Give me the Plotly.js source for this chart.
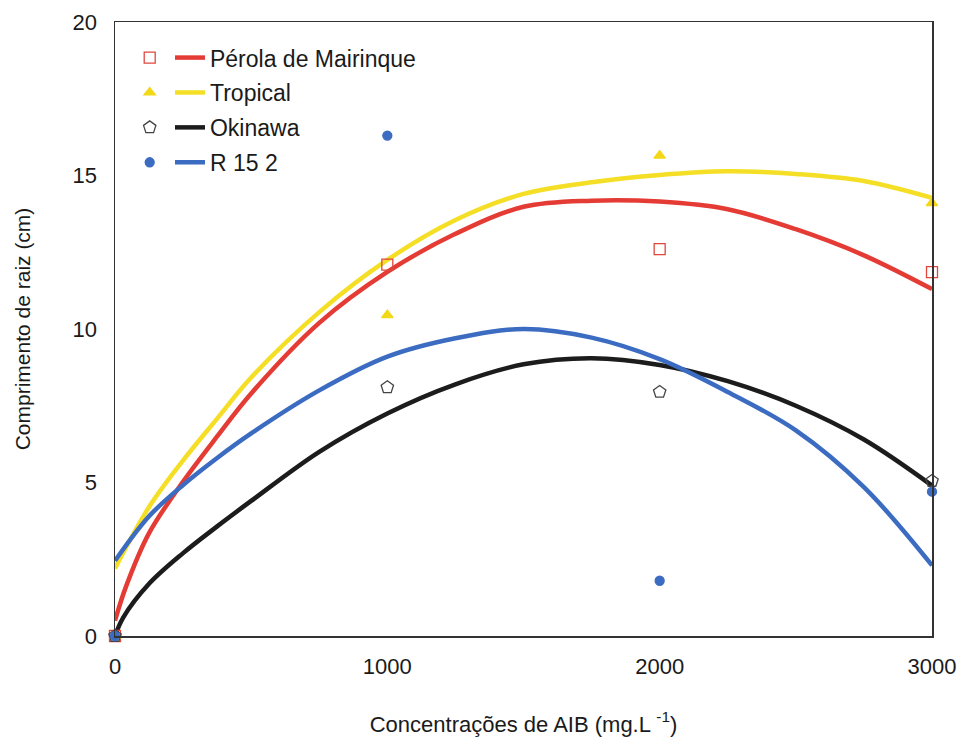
<!DOCTYPE html>
<html><head><meta charset="utf-8">
<script src="https://cdn.plot.ly/plotly-3.0.1.min.js"></script>
<style>html,body{margin:0;padding:0;background:#fff;}#chart{width:961px;height:737px;}</style>
</head><body><div id="chart"></div>
<script>
// Observed points
const doses = [0, 1000, 2000, 3000];
const perolaPts   = [0, 12.1, 12.6, 11.85];
const tropicalPts = [0, 10.45, 15.65, 14.1];
const okinawaPts  = [0, 8.1, 7.95, 5.05];
const r152Pts     = [0, 16.3, 1.8, 4.7];

// Fitted curves
const perolaCurveX = [0, 40, 125, 250, 375, 500, 750, 1000, 1250, 1500, 1750, 2000, 2250, 2500, 2750, 3000];
const perolaCurveY = [0.5, 1.6, 3.35, 5.03, 6.5, 7.9, 10.2, 11.86, 13.1, 13.98, 14.18, 14.15, 13.9, 13.25, 12.4, 11.3];
const tropicalCurveX = [0, 125, 250, 375, 500, 750, 1000, 1250, 1500, 1750, 2000, 2250, 2500, 2750, 3000];
const tropicalCurveY = [2.2, 4.2, 5.72, 7.08, 8.42, 10.55, 12.25, 13.55, 14.4, 14.78, 15.02, 15.14, 15.05, 14.82, 14.27];
const okinawaCurveX = [0, 30, 125, 250, 375, 500, 750, 1000, 1250, 1500, 1750, 2000, 2250, 2500, 2750, 3000];
const okinawaCurveY = [0, 0.6, 1.7, 2.7, 3.57, 4.4, 6.0, 7.25, 8.2, 8.85, 9.05, 8.83, 8.3, 7.5, 6.4, 4.9];
const r152CurveX = [0, 125, 250, 375, 500, 750, 1000, 1250, 1500, 1750, 2000, 2250, 2500, 2750, 3000];
const r152CurveY = [2.45, 3.9, 4.92, 5.8, 6.6, 8.0, 9.1, 9.7, 10.0, 9.72, 9.02, 7.95, 6.7, 4.85, 2.3];

const names = ['Pérola de Mairinque', 'Tropical', 'Okinawa', 'R 15 2'];
const xTicks = [0, 1000, 2000, 3000];
const yTicks = [0, 5, 10, 15, 20];

const colors = ['#e53b35', '#f5df26', '#1c1c1c', '#3b6cc2'];
const symbols = ['square-open', 'triangle-up', 'pentagon-open', 'circle'];
const mColors = ['#e0463c', '#f2d817', '#444444', '#3b6cc2'];
const mSizes = [11, 10, 13, 9];

const pts = [perolaPts, tropicalPts, okinawaPts, r152Pts];
const cx = [perolaCurveX, tropicalCurveX, okinawaCurveX, r152CurveX];
const cy = [perolaCurveY, tropicalCurveY, okinawaCurveY, r152CurveY];

const traces = [];
for (let i = 0; i < 4; i++) {
  traces.push({
    x: cx[i], y: cy[i], type: 'scatter', mode: 'lines',
    line: {color: colors[i], width: 4.5, shape: 'spline', smoothing: 1},
    name: names[i], legend: 'legend', legendgroup: 'l' + i, cliponaxis: false
  });
}
for (let i = 0; i < 4; i++) {
  traces.push({
    x: doses, y: pts[i], type: 'scatter', mode: 'markers',
    marker: {symbol: symbols[i], color: mColors[i], size: mSizes[i], line: {width: 1.3, color: mColors[i]}},
    name: '\u00a0', legend: 'legend2', legendgroup: 'm' + i, cliponaxis: false
  });
}

const fontFam = '"Liberation Sans", Arial, sans-serif';
const legCommon = {
  font: {family: fontFam, size: 23, color: '#1a1a1a'},
  bgcolor: 'rgba(0,0,0,0)', borderwidth: 0,
  xanchor: 'left', yanchor: 'top', tracegroupgap: 2, traceorder: 'grouped',
  itemwidth: 30
};

const layout = {
  width: 961, height: 737,
  paper_bgcolor: '#fff', plot_bgcolor: '#fff',
  margin: {l: 115, r: 29, t: 22, b: 101},
  font: {family: fontFam, color: '#1a1a1a'},
  showlegend: true,
  legend: Object.assign({}, legCommon, {x: 0.0673, y: 0.977}),
  legend2: Object.assign({}, legCommon, {x: 0.018, y: 0.977}),
  xaxis: {
    range: [0, 3000], tickvals: xTicks, ticktext: xTicks.map(String),
    showgrid: false, zeroline: false, showline: true, mirror: true,
    linecolor: '#333', linewidth: 1.5, ticks: '',
    tickfont: {size: 22, family: fontFam}, ticklabelstandoff: 10,
    title: {text: 'Concentrações de AIB (mg.L <sup>-1</sup>)', font: {size: 22, family: fontFam}, standoff: 38}
  },
  yaxis: {
    range: [0, 20], tickvals: yTicks, ticktext: yTicks.map(String),
    showgrid: false, zeroline: false, showline: true, mirror: true,
    linecolor: '#333', linewidth: 1.5, ticks: '',
    tickfont: {size: 22, family: fontFam}, ticklabelstandoff: 12,
    title: {text: 'Comprimento de raiz (cm)', font: {size: 21, family: fontFam}, standoff: 36}
  }
};

Plotly.newPlot('chart', traces, layout, {displayModeBar: false, staticPlot: true});
</script>
</body></html>
